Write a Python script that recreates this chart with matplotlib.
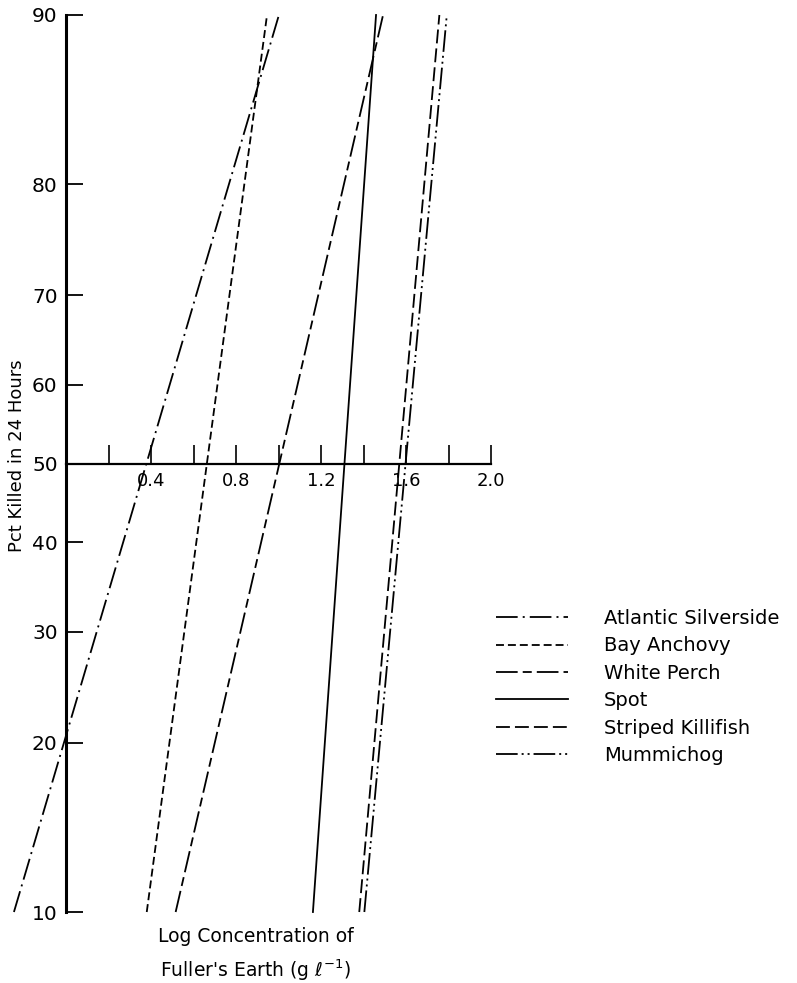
import numpy as np
import matplotlib
matplotlib.use('Agg')
import matplotlib.pyplot as plt

# data (log conc. where each line hits 10 % and 90 %)
species = ['Atlantic Silverside', 'Bay Anchovy', 'White Perch', 'Spot',
           'Striped Killifish', 'Mummichog']
conc_at_10 = [-0.245, 0.380, 0.516, 1.162, 1.380, 1.404]
conc_at_90 = [1.002, 0.946, 1.492, 1.459, 1.757, 1.792]
pct_ends = [10, 90]

y_ticks = [10, 20, 30, 40, 50, 60, 70, 80, 90]
x_major = [0.4, 0.8, 1.2, 1.6, 2.0]
x_minor = [0.2, 0.6, 1.0, 1.4, 1.8]

# line styles for each species
styles = [
    (0, (12, 2.8, 1.1, 2.8)),             # dash-dot
    (0, (4.4, 2.2)),                      # short dashes
    (0, (12, 2.8, 5, 2.8)),               # long-short dash
    '-',                                  # solid
    (0, (7.7, 2.8)),                      # medium dash
    (0, (12, 2.2, 1.1, 2.2, 1.1, 2.2)),   # dash-dot-dot
]

# probability-type scale (logit, slightly stretched, like the paper)
POW = 1.03


def fwd(p):
    p = np.clip(np.asarray(p, dtype=float), 1e-6, 100 - 1e-6)
    l = np.log(p / (100 - p))
    return np.sign(l) * np.abs(l) ** POW


def inv(f):
    f = np.asarray(f, dtype=float)
    l = np.sign(f) * np.abs(f) ** (1 / POW)
    return 100 / (1 + np.exp(-l))


fig = plt.figure(figsize=(7.97, 9.83), dpi=100)
ax = fig.add_axes([0, 71 / 983, 1, 897 / 983])
ax.set_yscale('function', functions=(fwd, inv))
ax.set_xlim(-66 / 212.5, 731 / 212.5)
ax.set_ylim(10, 90)

for name, c10, c90, ls in zip(species, conc_at_10, conc_at_90, styles):
    ax.plot([c10, c90], pct_ends, color='black', lw=1.3, linestyle=ls,
            label=name, clip_on=False)

# axes crossing at x = 0 and y = 50
ax.spines['top'].set_visible(False)
ax.spines['right'].set_visible(False)
ax.spines['left'].set_position(('data', 0))
ax.spines['left'].set_bounds(10, 90)
ax.spines['left'].set_linewidth(2.2)
ax.spines['bottom'].set_position(('data', 50))
ax.spines['bottom'].set_bounds(0, 2.0)
ax.spines['bottom'].set_linewidth(1.6)

ax.yaxis.set_major_locator(matplotlib.ticker.FixedLocator(y_ticks))
ax.yaxis.set_minor_locator(matplotlib.ticker.NullLocator())
ax.set_yticklabels([str(v) for v in y_ticks])
ax.set_xticks(x_major)
ax.set_xticklabels([f'{v:.1f}' for v in x_major])
ax.set_xticks(x_minor, minor=True)

ax.tick_params(axis='y', direction='in', length=12, width=1.3,
               labelsize=14.5, pad=6)
ax.tick_params(axis='x', which='both', direction='in', length=14,
               width=1.2, labelsize=13, pad=6)

ax.set_ylabel('Pct Killed in 24 Hours', fontsize=13)
ax.yaxis.set_label_coords(26 / 797, (912 - 456) / 897)
ax.set_xlabel("Log Concentration of\nFuller's Earth (g $\\ell^{-1}$)",
              fontsize=13.5, linespacing=1.6)
ax.xaxis.set_label_coords(256 / 797, (912 - 927) / 897)

ax.legend(loc='center left', bbox_to_anchor=(496 / 797, 1 - 687 / 983),
          bbox_transform=fig.transFigure, frameon=False, fontsize=14,
          handlelength=3.7, handletextpad=1.85, labelspacing=0.43,
          borderpad=0, borderaxespad=0)

fig.savefig('out.png', dpi=100)
